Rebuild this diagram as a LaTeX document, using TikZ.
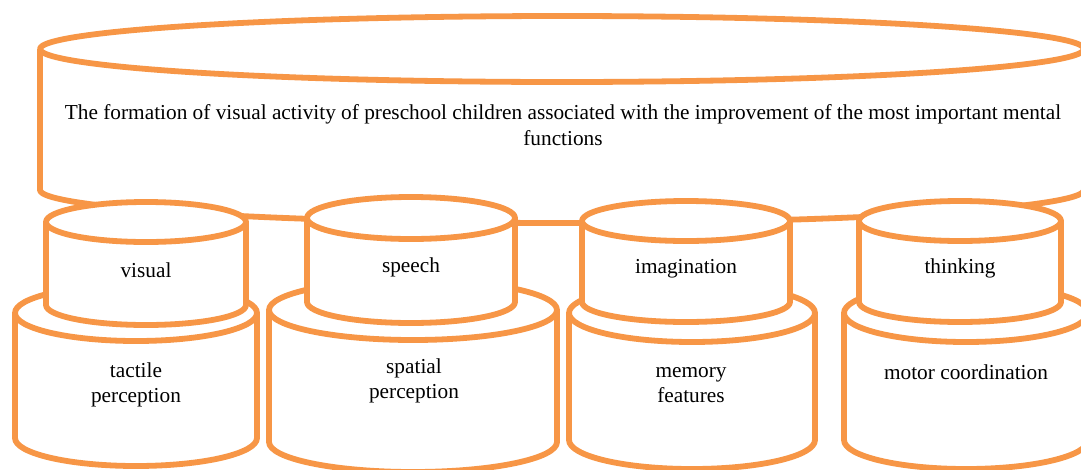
\documentclass[tikz,border=0pt]{standalone}
\usepackage{fontspec}
\setmainfont{Liberation Serif}
\definecolor{drumorange}{RGB}{247,150,70}
\tikzset{
  drumline/.style={draw=drumorange, line width=5.8pt, line join=round},
  drumtext/.style={font=\fontsize{21.3}{25.5}\selectfont, align=center, inner sep=0pt}
}
% centre x, top y, bottom y, x radius, y radius
\newcommand{\drum}[5]{%
  \fill[white] (#1-#4,#2) -- (#1-#4,#3) arc[start angle=180,end angle=0,x radius=#4,y radius=#5]
    -- (#1+#4,#2) arc[start angle=0,end angle=-180,x radius=#4,y radius=#5] -- cycle;
  \draw[drumline] (#1-#4,#2) -- (#1-#4,#3) arc[start angle=180,end angle=0,x radius=#4,y radius=#5] -- (#1+#4,#2);
  \draw[drumline] (#1,#2) ellipse[x radius=#4,y radius=#5];
}
\begin{document}
\begin{tikzpicture}[x=1pt,y=-1pt]
\useasboundingbox (0,0) rectangle (1081,469);
\clip (0,0) rectangle (1081,469);
\drum{562}{49}{190}{522}{33}
\drum{136}{313}{438}{121}{28}
\drum{413}{310}{442}{144}{30}
\drum{692}{313}{440}{123}{29}
\drum{966}{313}{440}{122}{29}
\drum{146}{222}{305}{100}{20}
\drum{411}{218}{302}{104}{21}
\drum{686}{221}{302}{104}{20}
\drum{960}{221}{302}{101}{20}
\node[drumtext] (formation) at (563,125) {The formation of visual activity of preschool children associated with the improvement of the most important mental\\functions};
\node[drumtext] (visual) at (146,270) {visual};
\node[drumtext] (speech) at (411,267) {speech};
\node[drumtext] (imagination) at (686,269) {imagination};
\node[drumtext] (thinking) at (960,268) {thinking};
\node[drumtext] (tactile) at (136,385) {tactile\\perception};
\node[drumtext] (spatial) at (414,381) {spatial\\perception};
\node[drumtext] (memory) at (691,385) {memory\\features};
\node[drumtext] (motor) at (966,372) {motor coordination};
\end{tikzpicture}
\end{document}
